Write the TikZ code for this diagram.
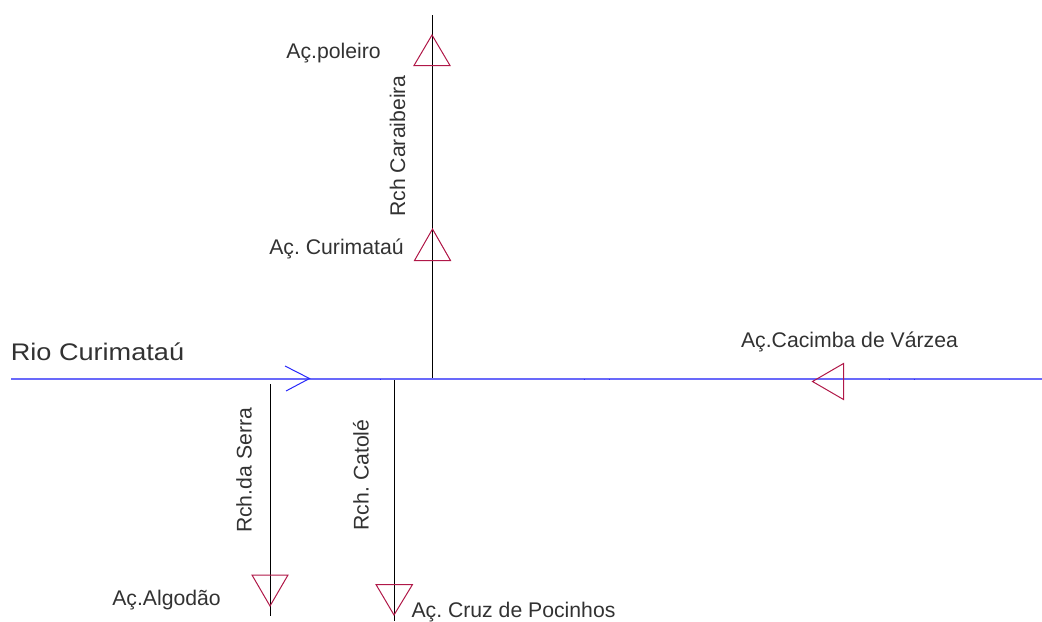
\documentclass[tikz,border=0pt]{standalone}
\usepackage{fontspec}
\setmainfont{Liberation Sans}
\definecolor{riv}{RGB}{105,105,250}
\definecolor{rivd}{RGB}{40,40,250}
\definecolor{dam}{RGB}{176,24,72}
\definecolor{txt}{RGB}{50,50,50}
\tikzset{
 trib/.style={draw=black,line width=0.75pt},
 river/.style={draw=riv,line width=1.15pt},
 damtri/.style={draw=dam,line width=0.75pt,line join=miter},
 lab/.style={text=txt,font=\frenchspacing\fontsize{15.9pt}{18pt}\selectfont,inner sep=0pt,anchor=center},
 biglab/.style={text=txt,font=\fontsize{18pt}{20pt}\selectfont,inner sep=0pt,anchor=center,xscale=1.13}
}
\begin{document}
\begin{tikzpicture}[x=0.75pt,y=-0.75pt]
\useasboundingbox (0,0) rectangle (1042,621);
\coordinate (rw) at (11,379);
\coordinate (re) at (1042,379);
\coordinate (j1) at (432,379);
\coordinate (j2) at (394,379);
\coordinate (t1) at (432,15);
\coordinate (e2) at (394,621);
\coordinate (s3) at (270,384);
\coordinate (e3) at (270,616);
\draw[trib] (t1) -- (j1);
\draw[trib] (j2) -- (e2);
\draw[trib] (s3) -- (e3);
\draw[river] (rw) -- (re);
\foreach \tx in {380,584,609,889,914}
  \draw[draw=rivd,line width=0.75pt] (\tx-0.5,379) -- (\tx+0.5,379);
\coordinate (a1) at (285,366);
\coordinate (a2) at (309.5,378.5);
\coordinate (a3) at (286,391);
\draw[draw=rivd,line width=0.75pt] (a1) -- (a2) -- (a3);
\draw[damtri] (432,35) -- (450,65.5) -- (414,65.5) -- cycle;
\draw[damtri] (432.5,229) -- (450.5,260.5) -- (414.5,260.5) -- cycle;
\draw[damtri] (270,606) -- (288,575) -- (252,575) -- cycle;
\draw[damtri] (394,615) -- (412.5,584.5) -- (376,584.5) -- cycle;
\draw[damtri] (812.5,381.5) -- (843.5,363.5) -- (843.5,399.5) -- cycle;
\node[lab] (n1) at (333.5,53.5) {Aç.poleiro};
\node[lab] (n2) at (336.5,249) {Aç. Curimataú};
\node[lab] (n3) at (849.5,341.5) {Aç.Cacimba de Várzea};
\node[lab] (n4) at (166.5,600) {Aç.Algodão};
\node[lab] (n5) at (513.5,612) {Aç. Cruz de Pocinhos};
\node[biglab] (n6) at (97.5,352) {Rio Curimataú};
\node[lab,rotate=90] (n7) at (397.5,146) {Rch Caraibeira};
\node[lab,rotate=90] (n8) at (244,470.5) {Rch.da Serra};
\node[lab,rotate=90] (n9) at (361,475) {Rch. Catolé};
\end{tikzpicture}
\end{document}
